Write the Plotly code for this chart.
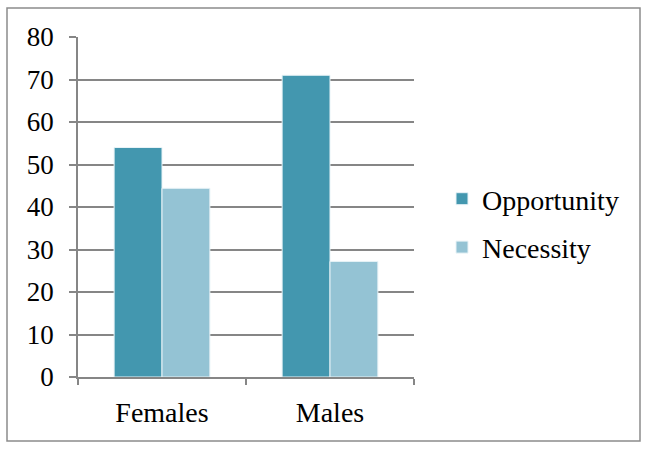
import plotly.graph_objects as go

categories = ["Females", "Males"]
opportunity = [54.0, 71.0]
necessity = [44.4, 27.2]
y_ticks = [0, 10, 20, 30, 40, 50, 60, 70, 80]

FONT = "Liberation Serif"
W, H = 645, 450
L, R, T, B = 78, 231, 37, 73
pw, ph = W - L - R, H - T - B

fig = go.Figure()
fig.add_trace(go.Bar(name="Opportunity", x=categories, y=opportunity,
                     marker=dict(color="#4397AF", line=dict(color="#E8F3F7", width=1)),
                     legendgroup="a"))
fig.add_trace(go.Bar(name="Necessity", x=categories, y=necessity,
                     marker=dict(color="#94C3D4", line=dict(color="#E8F3F7", width=1)),
                     legendgroup="b"))

def px_x(p):
    return (p - L) / pw

def px_y(p):
    return (H - B - p) / ph

fig.add_shape(type="rect", xref="paper", yref="paper",
              x0=px_x(7), x1=px_x(640), y0=px_y(441), y1=px_y(8),
              line=dict(color="#8C8C8C", width=1.5), fillcolor="rgba(0,0,0,0)", layer="below")

fig.update_layout(
    width=W, height=H,
    margin=dict(l=L, r=R, t=T, b=B),
    paper_bgcolor="white", plot_bgcolor="white",
    barmode="group", bargap=0.43, bargroupgap=0,
    font=dict(family=FONT, size=28, color="#000000"),
    showlegend=True,
    legend=dict(x=px_x(442), xanchor="left", y=px_y(174), yanchor="top",
                font=dict(family=FONT, size=28), tracegroupgap=9,
                itemwidth=30, bgcolor="rgba(0,0,0,0)"),
    xaxis=dict(showline=True, linecolor="#868686", linewidth=1.5,
               ticks="outside", tickson="boundaries", ticklen=6, tickcolor="#868686",
               tickwidth=1.5, showgrid=False, ticklabelstandoff=10,
               tickfont=dict(family=FONT, size=28)),
    yaxis=dict(range=[0, 80], tickvals=y_ticks, showline=True, linecolor="#868686",
               linewidth=1.5, ticks="outside", ticklen=7, tickcolor="#868686",
               tickwidth=1.5, showgrid=True, gridcolor="#868686", gridwidth=1.5,
               zeroline=False, tickfont=dict(family=FONT, size=27),
               ticklabelstandoff=10),
)

fig.write_html("out.html")
